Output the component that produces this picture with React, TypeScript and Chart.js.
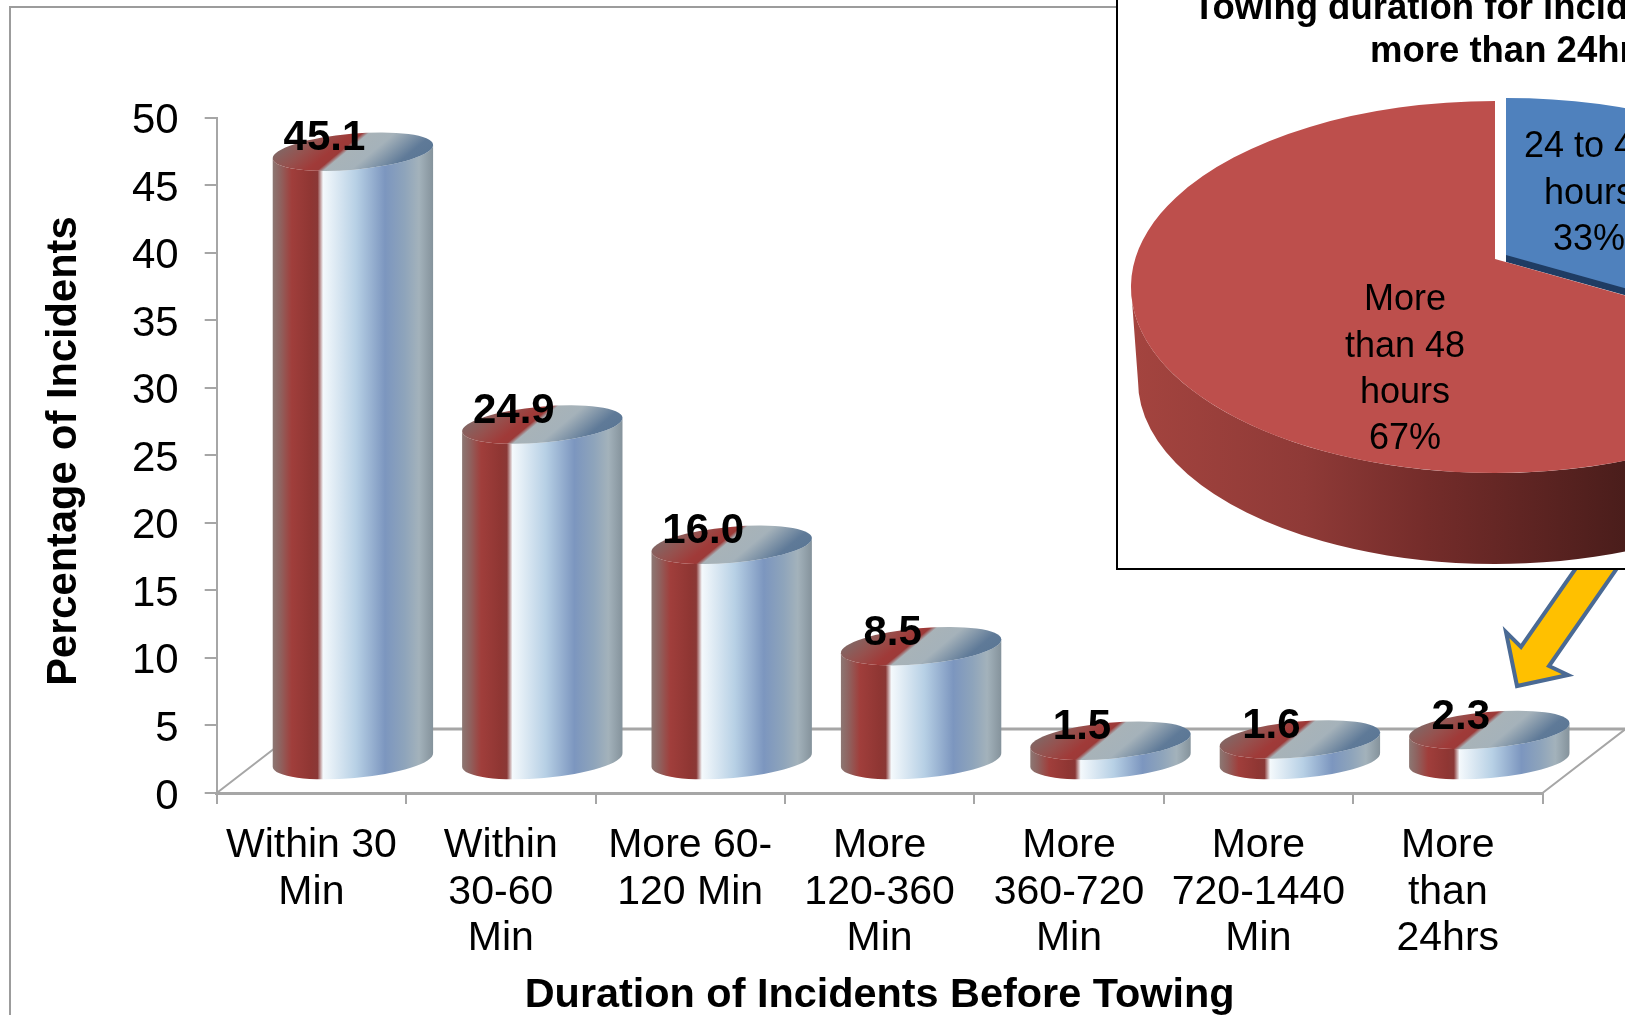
import React, { useEffect, useRef } from "react";
import { Chart, registerables } from "chart.js";

Chart.register(...registerables);

const categories = [
  ["Within 30", "Min"],
  ["Within", "30-60", "Min"],
  ["More 60-", "120 Min"],
  ["More", "120-360", "Min"],
  ["More", "360-720", "Min"],
  ["More", "720-1440", "Min"],
  ["More", "than", "24hrs"],
];
const incidentShare = [45.1, 24.9, 16.0, 8.5, 1.5, 1.6, 2.3];
const yTicksMax = 50;
const yTickStep = 5;

const pieLabels = [
  ["24 to 48", "hours"],
  ["More", "than 48", "hours"],
];
const pieShare = [33, 67];
const insetTitle = ["Towing duration for incidents lasting", "more than 24hrs"];

const FONT = '"Liberation Sans", Arial, sans-serif';
const AXIS_GREY = "#a6a6a6";

// Page geometry of the inset panel; its top and right run past the page edge.
const INSET_LEFT = 1116;
const INSET_TOP = -40;
const INSET_WIDTH = 792;
const INSET_HEIGHT = 610;

// Oblique floor: the cylinders stand half way back on it.
const FLOOR_DX = 83;
const FLOOR_DY = 64;
const TILT = (-5 * Math.PI) / 180;
const CAP_MINOR = 18;

function sideGradient(ctx: CanvasRenderingContext2D, x0: number, x1: number) {
  const g = ctx.createLinearGradient(x0, 0, x1, 0);
  g.addColorStop(0, "#8c7874");
  g.addColorStop(0.05, "#8f625f");
  g.addColorStop(0.12, "#a03e3b");
  g.addColorStop(0.24, "#8f3633");
  g.addColorStop(0.28, "#8a3836");
  g.addColorStop(0.315, "#f4f9fc");
  g.addColorStop(0.52, "#b7d0e5");
  g.addColorStop(0.7, "#7c96bf");
  g.addColorStop(0.82, "#8ea4bb");
  g.addColorStop(0.91, "#a3b2bb");
  g.addColorStop(1, "#84929b");
  return g;
}

function capGradient(ctx: CanvasRenderingContext2D, cx: number, cy: number) {
  const nx = 0.64;
  const ny = 0.77;
  const d = 52;
  const g = ctx.createLinearGradient(cx - nx * d, cy - ny * d, cx + nx * d, cy + ny * d);
  g.addColorStop(0, "#7f6a68");
  g.addColorStop(0.2, "#96514e");
  g.addColorStop(0.36, "#a03a38");
  g.addColorStop(0.42, "#9c3a38");
  g.addColorStop(0.46, "#a8b3b8");
  g.addColorStop(0.62, "#a5b2ba");
  g.addColorStop(0.86, "#5f7a98");
  g.addColorStop(1, "#5a7694");
  return g;
}

// Floor outline and page furniture, underneath the cylinders.
const floorPlugin = {
  id: "floor",
  beforeDatasetsDraw(chart: any) {
    const { ctx, chartArea: a } = chart;
    ctx.save();
    ctx.strokeStyle = "#9c9c9c";
    ctx.lineWidth = 2;
    ctx.beginPath();
    ctx.moveTo(10, 1015);
    ctx.lineTo(10, 7);
    ctx.lineTo(1118, 7);
    ctx.stroke();

    ctx.strokeStyle = AXIS_GREY;
    ctx.lineWidth = 2;
    ctx.beginPath();
    ctx.moveTo(a.left, a.bottom);
    ctx.lineTo(a.left + FLOOR_DX, a.bottom - FLOOR_DY);
    ctx.moveTo(a.right, a.bottom);
    ctx.lineTo(a.right + FLOOR_DX, a.bottom - FLOOR_DY);
    ctx.stroke();
    ctx.lineWidth = 3;
    ctx.beginPath();
    ctx.moveTo(a.left + FLOOR_DX, a.bottom - FLOOR_DY);
    ctx.lineTo(a.right + FLOOR_DX, a.bottom - FLOOR_DY);
    ctx.stroke();
    ctx.restore();
  },
};

// Each bar element is rendered as a cylinder, with its value beside the cap.
const cylinderPlugin = {
  id: "cylinders",
  afterDatasetsDraw(chart: any) {
    const { ctx } = chart;
    const bars = chart.getDatasetMeta(0).data;
    const values = chart.data.datasets[0].data;
    bars.forEach((bar: any) => {
      const cx = bar.x + FLOOR_DX / 2;
      const top = bar.y - FLOOR_DY / 2;
      const base = bar.base - FLOOR_DY / 2;
      const a = bar.width / 2;

      ctx.save();
      ctx.beginPath();
      ctx.ellipse(cx, base, a, CAP_MINOR, TILT, 0, Math.PI);
      ctx.ellipse(cx, top, a, CAP_MINOR, TILT, Math.PI, 0, true);
      ctx.closePath();
      ctx.fillStyle = sideGradient(ctx, cx - a, cx + a);
      ctx.fill();

      ctx.beginPath();
      ctx.ellipse(cx, top, a, CAP_MINOR, TILT, 0, Math.PI * 2);
      ctx.fillStyle = capGradient(ctx, cx, top);
      ctx.fill();
      ctx.restore();
    });
    bars.forEach((bar: any, i: number) => {
      ctx.save();
      ctx.font = `bold 42px ${FONT}`;
      ctx.fillStyle = "#000";
      ctx.textAlign = "center";
      ctx.textBaseline = "middle";
      ctx.fillText(values[i].toFixed(1), bar.x + FLOOR_DX / 2 - 28.5, bar.y - FLOOR_DY / 2 - 13);
      ctx.restore();
    });
  },
};

// Block arrow running from the inset panel down to the last cylinder.
const arrowPlugin = {
  id: "callout",
  afterDraw(chart: any) {
    const { ctx } = chart;
    ctx.save();
    ctx.beginPath();
    ctx.moveTo(1517, 686);
    ctx.lineTo(1506, 632);
    ctx.lineTo(1521, 647);
    ctx.lineTo(1590, 548);
    ctx.lineTo(1631, 548);
    ctx.lineTo(1549, 666);
    ctx.lineTo(1568, 675);
    ctx.closePath();
    ctx.fillStyle = "#ffc000";
    ctx.fill();
    ctx.strokeStyle = "#4a6a94";
    ctx.lineWidth = 4;
    ctx.stroke();
    ctx.restore();
  },
};

// The pie takes its slice angles from the arc elements and lays them on a tilted disc.
const tiltedPiePlugin = {
  id: "tiltedPie",
  beforeDraw(chart: any) {
    const { ctx, width, height } = chart;
    ctx.save();
    ctx.fillStyle = "#fff";
    ctx.fillRect(1, 1, width - 2, height - 2);
    ctx.strokeStyle = "#000";
    ctx.lineWidth = 2;
    ctx.strokeRect(1, 1, width - 2, height - 2);
    ctx.restore();
  },
  afterDatasetsDraw(chart: any) {
    const { ctx } = chart;
    const [blue, red] = chart.getDatasetMeta(0).data;
    const ox = INSET_LEFT;
    const oy = INSET_TOP;

    const slice = (
      arc: any,
      cx: number,
      cy: number,
      a: number,
      b: number,
      tx: number,
      ty: number,
      forward: boolean,
      fill: string
    ) => {
      const edge = forward ? arc.endAngle : arc.startAngle;
      ctx.beginPath();
      ctx.moveTo(tx, ty);
      ctx.lineTo(tx + a * Math.cos(edge), ty + b * Math.sin(edge));
      if (forward) ctx.ellipse(cx, cy, a, b, 0, arc.endAngle, arc.startAngle, true);
      else ctx.ellipse(cx, cy, a, b, 0, arc.startAngle, arc.endAngle);
      ctx.closePath();
      ctx.fillStyle = fill;
      ctx.fill();
    };

    ctx.save();
    // Wall of the large slice
    const rx = 1495 - ox;
    const wall = ctx.createLinearGradient(1131 - ox, 0, 1625 - ox, 0);
    wall.addColorStop(0, "#a4443f");
    wall.addColorStop(0.35, "#8f3a37");
    wall.addColorStop(0.6, "#742c2a");
    wall.addColorStop(1, "#4a1d1b");
    ctx.beginPath();
    ctx.ellipse(rx, 287 - oy, 364, 186, 0, Math.PI, red.startAngle, true);
    ctx.ellipse(rx, 381 - oy, 357, 183, 0, red.startAngle, Math.PI);
    ctx.closePath();
    ctx.fillStyle = wall;
    ctx.fill();

    // Cut wall of the pulled-out slice, then both top faces
    slice(blue, 1506 - ox, 291 - oy, 366, 186, 1506 - ox, 262 - oy, true, "#1f3c63");
    slice(blue, 1506 - ox, 284 - oy, 366, 186, 1506 - ox, 255 - oy, true, "#4f81bd");
    slice(red, rx, 287 - oy, 364, 186, rx, 259 - oy, false, "#bd4f4c");

    ctx.fillStyle = "#000";
    ctx.font = `36px ${FONT}`;
    ctx.textAlign = "center";
    ctx.textBaseline = "middle";
    const anchors = [
      { x: 1589, y: 147.5 },
      { x: 1405, y: 300.5 },
    ];
    anchors.forEach((anchor, i) => {
      const lines = [...chart.data.labels[i], `${chart.data.datasets[0].data[i]}%`];
      lines.forEach((line: string, k: number) => {
        ctx.fillText(line, anchor.x - ox, anchor.y - oy + k * 46.3);
      });
    });
    ctx.restore();
  },
};

export default function App() {
  const mainRef = useRef<HTMLCanvasElement>(null);
  const insetRef = useRef<HTMLCanvasElement>(null);

  useEffect(() => {
    const main = new Chart(mainRef.current!, {
      type: "bar",
      data: {
        labels: categories,
        datasets: [
          {
            data: incidentShare,
            backgroundColor: "transparent",
            borderWidth: 0,
            barPercentage: 0.85,
            categoryPercentage: 1,
          },
        ],
      },
      options: {
        animation: false,
        responsive: false,
        layout: { padding: { top: 117.5, right: 82.5, left: 0, bottom: 0 } },
        plugins: { legend: { display: false }, tooltip: { enabled: false } },
        scales: {
          x: {
            offset: true,
            afterFit: (s: any) => {
              s.height = 222;
            },
            border: { color: AXIS_GREY, width: 3 },
            grid: { drawOnChartArea: false, color: AXIS_GREY, tickLength: 11, lineWidth: 2, offset: true },
            ticks: {
              autoSkip: false,
              maxRotation: 0,
              minRotation: 0,
              padding: 19,
              color: "#000",
              font: { family: FONT, size: 41, lineHeight: 1.125 },
            },
            title: {
              display: true,
              text: "Duration of Incidents Before Towing",
              color: "#000",
              font: { family: FONT, size: 41.4, weight: "bold", lineHeight: 0.95 },
              padding: { top: 0, bottom: 0 },
            },
          },
          y: {
            min: 0,
            max: yTicksMax,
            afterFit: (s: any) => {
              s.width = 216.7;
            },
            border: { color: AXIS_GREY, width: 2 },
            grid: { drawOnChartArea: false, color: AXIS_GREY, tickLength: 12, lineWidth: 2 },
            ticks: {
              stepSize: yTickStep,
              padding: 26,
              color: "#000",
              // An empty first line nudges the digits onto the tick centre.
              callback: (v: number) => ["", String(v)],
              font: { family: FONT, size: 42, lineHeight: 0.19 },
            },
            title: {
              display: true,
              text: "\u2009Percentage of Incidents",
              color: "#000",
              font: { family: FONT, size: 41.6, weight: "bold", lineHeight: 1.1 },
              padding: { top: 42, bottom: 0 },
            },
          },
        },
      },
      plugins: [floorPlugin, cylinderPlugin, arrowPlugin],
    } as any);

    const inset = new Chart(insetRef.current!, {
      type: "pie",
      data: {
        labels: pieLabels,
        datasets: [{ data: pieShare, backgroundColor: "transparent", borderWidth: 0 }],
      },
      options: {
        animation: false,
        responsive: false,
        plugins: {
          legend: { display: false },
          tooltip: { enabled: false },
          title: {
            display: true,
            text: insetTitle,
            color: "#000",
            font: { family: FONT, size: 36.5, weight: "bold", lineHeight: 1.18 },
            padding: { top: 27.5, bottom: 10 },
          },
        },
      },
      plugins: [tiltedPiePlugin],
    } as any);

    return () => {
      main.destroy();
      inset.destroy();
    };
  }, []);

  return (
    <div style={{ position: "fixed", left: 0, top: 0, width: 1625, height: 1015, overflow: "hidden", background: "#fff" }}>
      <canvas ref={mainRef} width={1625} height={1015} style={{ position: "absolute", left: 0, top: 0 }} />
      <canvas
        ref={insetRef}
        width={INSET_WIDTH}
        height={INSET_HEIGHT}
        style={{ position: "absolute", left: INSET_LEFT, top: INSET_TOP }}
      />
    </div>
  );
}
